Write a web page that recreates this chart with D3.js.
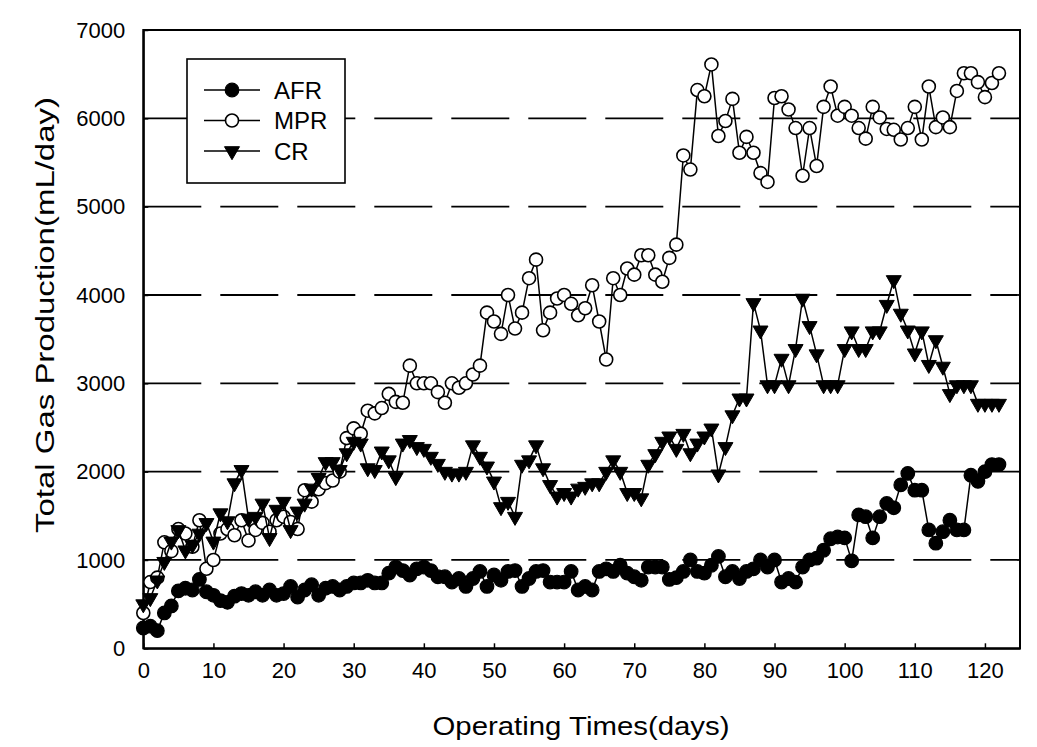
<!DOCTYPE html>
<html><head><meta charset="utf-8">
<script src="https://cdnjs.cloudflare.com/ajax/libs/d3/7.8.5/d3.min.js"></script>
<style>html,body{margin:0;padding:0;background:#fff;}svg{display:block;}</style>
</head><body>
<svg id="chart" width="1037" height="747"></svg>
<script>
// ---- data (one point per day, day 0..122) ----
const seriesNames = ["AFR", "MPR", "CR"];
const xTicks = [0, 10, 20, 30, 40, 50, 60, 70, 80, 90, 100, 110, 120];
const yTicks = [0, 1000, 2000, 3000, 4000, 5000, 6000, 7000];
const xTitle = "Operating Times(days)";
const yTitle = "Total Gas Production(mL/day)";

const afr = [230,250,200,400,480,650,680,660,780,640,600,540,520,590,620,600,640,600,660,600,
  620,700,580,660,720,600,680,700,660,700,740,740,770,740,740,850,920,880,830,900,
  920,880,810,810,750,790,700,790,870,700,830,770,870,880,700,790,870,880,750,750,
  750,870,660,700,660,870,900,870,940,850,810,770,920,920,920,780,800,870,1000,870,
  850,940,1040,810,870,790,870,900,1000,920,1000,750,790,750,920,1000,1020,1110,1240,1260,
  1250,990,1510,1490,1250,1490,1640,1590,1850,1980,1790,1790,1340,1190,1320,1450,1340,1340,1960,1890,
  2000,2080,2080];
const mpr = [400,750,800,1200,1100,1350,1300,1150,1450,900,1000,1300,1350,1280,1450,1220,1340,1420,1320,1450,
  1490,1430,1350,1790,1660,1800,1870,1900,2000,2380,2490,2430,2690,2660,2720,2880,2790,2780,3200,3000,
  3000,3000,2900,2780,3000,2950,3000,3100,3200,3800,3700,3560,4000,3620,3800,4190,4400,3600,3800,3960,
  4000,3900,3770,3850,4110,3700,3270,4190,4000,4300,4230,4450,4450,4230,4150,4420,4570,5580,5420,6320,
  6250,6610,5800,5970,6220,5610,5790,5610,5380,5280,6230,6250,6100,5890,5350,5890,5460,6130,6360,6030,
  6130,6030,5890,5770,6130,6010,5880,5870,5760,5890,6130,5760,6360,5900,6010,5900,6310,6510,6510,6410,
  6240,6400,6510];
const cr = [500,570,770,980,1210,1340,1110,1170,1300,1420,1210,1530,1440,1870,2020,1470,1490,1640,1250,1570,
  1660,1340,1550,1640,1810,1930,2110,2110,2020,2210,2340,2320,2040,2020,2230,2130,1940,2320,2360,2280,
  2260,2170,2090,2000,1980,1980,2000,2300,2170,2060,1890,1600,1660,1490,2080,2130,2300,2040,1850,1720,
  1760,1720,1810,1830,1870,1870,2000,2130,2000,1760,1760,1700,2080,2200,2340,2400,2260,2430,2210,2320,
  2400,2490,1970,2280,2640,2830,2830,3910,3600,2980,2980,3280,2980,3390,3960,3650,3330,2980,2980,2980,
  3390,3590,3390,3390,3590,3590,3890,4170,3790,3600,3340,3590,3210,3490,3190,2880,2980,2980,2980,2770,
  2770,2770,2770];

// ---- layout ----
const svg = d3.select("#chart");
const font = "'Liberation Sans', Arial, Helvetica, sans-serif";
const x = d3.scaleLinear().domain([0, 125]).range([143.3, 1020]);
const y = d3.scaleLinear().domain([0, 7000]).range([648.3, 30]);

// dashed gridlines
svg.append("g").selectAll("line")
  .data(yTicks.filter(v => v > 0 && v < 7000))
  .join("line")
  .attr("x1", x(0)).attr("x2", x(125))
  .attr("y1", d => y(d)).attr("y2", d => y(d))
  .attr("stroke", "#000").attr("stroke-width", 1.8)
  .attr("stroke-dasharray", "58,19");

// frame
svg.append("rect")
  .attr("x", x(0)).attr("y", y(7000))
  .attr("width", x(125) - x(0)).attr("height", y(0) - y(7000))
  .attr("fill", "none").attr("stroke", "#000").attr("stroke-width", 2);

// axes (inward ticks)
const xAxis = d3.axisBottom(x).tickValues(xTicks).tickFormat(d3.format("d"))
  .tickSizeInner(-5).tickSizeOuter(0).tickPadding(14);
const gx = svg.append("g").attr("transform", `translate(0,${y(0)})`).call(xAxis);
gx.select(".domain").attr("stroke-width", 2);
gx.selectAll(".tick line").attr("stroke-width", 1.5);
gx.selectAll("text").attr("font-family", font).attr("font-size", 22).attr("fill", "#000");

const yAxis = d3.axisLeft(y).tickValues(yTicks).tickFormat(d3.format("d"))
  .tickSizeInner(-5).tickSizeOuter(0).tickPadding(18);
const gy = svg.append("g").attr("transform", `translate(${x(0)},0)`).call(yAxis);
gy.select(".domain").attr("stroke-width", 2);
gy.selectAll(".tick line").attr("stroke-width", 1.5);
gy.selectAll("text").attr("font-family", font).attr("font-size", 22).attr("fill", "#000");

// titles
svg.append("text")
  .attr("x", 581).attr("y", 735)
  .attr("text-anchor", "middle")
  .attr("font-family", font).attr("font-size", 26)
  .attr("textLength", 297).attr("lengthAdjust", "spacingAndGlyphs")
  .text(xTitle);
svg.append("text")
  .attr("transform", "translate(54,315) rotate(-90)")
  .attr("text-anchor", "middle")
  .attr("font-family", font).attr("font-size", 26)
  .attr("textLength", 436).attr("lengthAdjust", "spacingAndGlyphs")
  .text(yTitle);

// markers
const triPath = "M-7.5,-4.3L7.5,-4.3L0,8.7Z";
function drawMarker(g, type) {
  if (type === "AFR") {
    g.append("circle").attr("r", 6.8).attr("fill", "#000").attr("stroke", "#000").attr("stroke-width", 1.2);
  } else if (type === "MPR") {
    g.append("circle").attr("r", 6.5).attr("fill", "#fff").attr("stroke", "#000").attr("stroke-width", 1.6);
  } else {
    g.append("path").attr("d", triPath).attr("fill", "#000").attr("stroke", "#000").attr("stroke-width", 1);
  }
}

const seriesData = { AFR: afr, MPR: mpr, CR: cr };
const line = d3.line().x((d, i) => x(i)).y(d => y(d));

["AFR", "MPR", "CR"].forEach(name => {
  const vals = seriesData[name];
  const g = svg.append("g");
  g.append("path").datum(vals).attr("d", line)
    .attr("fill", "none").attr("stroke", "#000").attr("stroke-width", 1.5);
  g.selectAll("g.pt").data(vals).join("g")
    .attr("class", "pt")
    .attr("transform", (d, i) => `translate(${x(i)},${y(d)})`)
    .each(function () { drawMarker(d3.select(this), name); });
});

// legend
const lg = svg.append("g");
lg.append("rect").attr("x", 187).attr("y", 59).attr("width", 158).attr("height", 124)
  .attr("fill", "#fff").attr("stroke", "#000").attr("stroke-width", 1.6);
const legendY = d3.scalePoint().domain(seriesNames).range([90, 151]);
seriesNames.forEach(name => {
  const yy = legendY(name);
  lg.append("line").attr("x1", 204).attr("x2", 260).attr("y1", yy).attr("y2", yy)
    .attr("stroke", "#000").attr("stroke-width", 1.5);
  const m = lg.append("g").attr("transform", `translate(232,${yy})`);
  drawMarker(m, name);
  lg.append("text").attr("x", 274).attr("y", yy).attr("dy", "0.36em")
    .attr("font-family", font).attr("font-size", 24).text(name);
});
</script>
</body></html>
